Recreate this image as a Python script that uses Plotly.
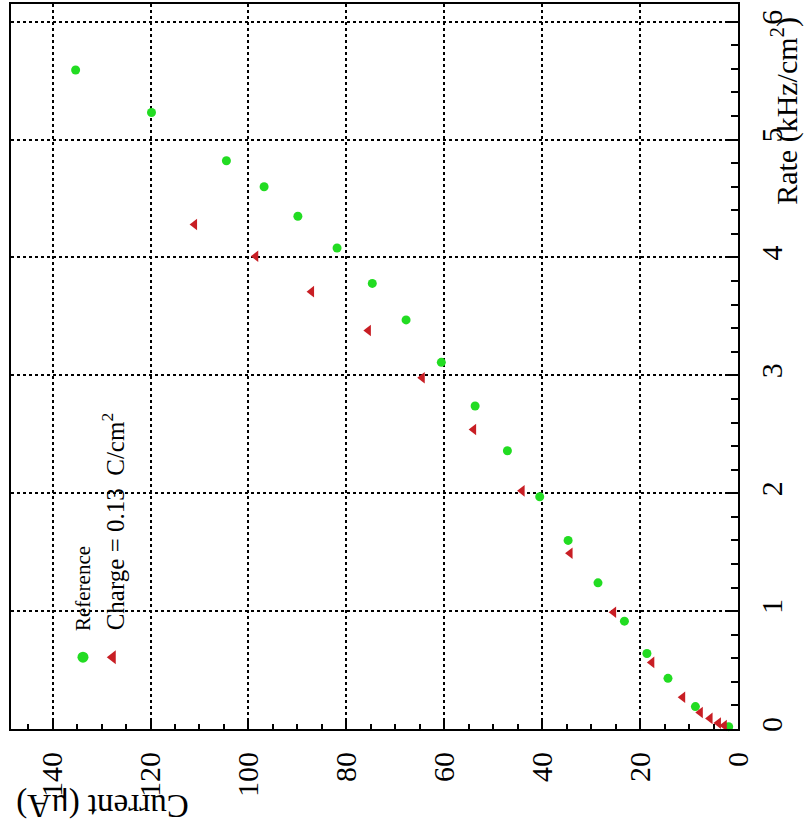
import plotly.graph_objects as go

# Data (Current in uA, Rate in kHz/cm^2)
ref_current = [1.9, 8.7, 14.3, 18.6, 23.2, 28.6, 34.7, 40.5, 47.1, 53.7, 60.6, 67.8, 74.7, 81.9, 89.9, 96.8, 104.5, 119.8, 135.3]
ref_rate = [0.02, 0.19, 0.43, 0.64, 0.915, 1.24, 1.60, 1.97, 2.36, 2.74, 3.11, 3.47, 3.78, 4.08, 4.35, 4.60, 4.82, 5.23, 5.59]

chg_current = [2.8, 4.0, 5.7, 7.7, 11.3, 17.6, 25.4, 34.3, 44.1, 54.0, 64.5, 75.5, 87.1, 98.5, 111.0]
chg_rate = [0.03, 0.05, 0.09, 0.14, 0.27, 0.565, 0.99, 1.49, 2.02, 2.54, 2.98, 3.38, 3.71, 4.01, 4.28]

legend_labels = ["Reference", "Charge\u00a0=\u00a00.13\u00a0\u00a0C/cm<sup>2</sup>"]

GREEN = "#22dc22"
RED = "#c81e24"
FONT = "Liberation Serif"

fig = go.Figure()
fig.add_trace(go.Scatter(x=ref_current, y=ref_rate, mode="markers", cliponaxis=False,
                         marker=dict(symbol="circle", size=9, color=GREEN), name=legend_labels[0]))
fig.add_trace(go.Scatter(x=chg_current, y=chg_rate, mode="markers", cliponaxis=False,
                         marker=dict(symbol="triangle-left", size=10, color=RED), name=legend_labels[1]))

# legend keys on an overlay paper-like axis
fig.add_trace(go.Scatter(x=[0.099], y=[0.099], mode="markers", xaxis="x2", yaxis="y2",
                         marker=dict(symbol="circle", size=11, color=GREEN), showlegend=False))
fig.add_trace(go.Scatter(x=[0.140], y=[0.099], mode="markers", xaxis="x2", yaxis="y2",
                         marker=dict(symbol="triangle-left", size=12, color=RED), showlegend=False))

axis_common = dict(
    showline=True, linecolor="black", linewidth=2, mirror=True,
    showgrid=True, gridcolor="black", griddash="dot", gridwidth=1.5,
    zeroline=False, ticks="inside", tickcolor="black", tickwidth=2,
    tickfont=dict(family=FONT, size=30, color="black"), tickangle=-90,
)

fig.update_layout(
    width=806, height=830,
    margin=dict(l=11, r=68, t=2, b=101),
    paper_bgcolor="white", plot_bgcolor="white",
    showlegend=False,
    xaxis=dict(range=[148.5, 0], dtick=20, tick0=0, ticklen=9,
               minor=dict(dtick=5, ticklen=5, ticks="inside", tickcolor="black", tickwidth=2, showgrid=False),
               ticklabelstandoff=9, **axis_common),
    yaxis=dict(range=[0, 6.15], dtick=1, tick0=0, side="right", ticklen=12,
               minor=dict(dtick=0.2, ticklen=7, ticks="inside", tickcolor="black", tickwidth=2, showgrid=False),
               ticklabelstandoff=6, **axis_common),
    xaxis2=dict(range=[0, 1], overlaying="x", visible=False, fixedrange=True),
    yaxis2=dict(range=[0, 1], overlaying="y", visible=False, fixedrange=True),
)

fig.add_annotation(text="Current (μA)", xref="paper", yref="paper", x=0.125, y=-0.1045,
                   xanchor="center", yanchor="middle",
                   showarrow=False, textangle=180, font=dict(family=FONT, size=33, color="black"))
fig.add_annotation(text="Rate (kHz/cm<sup>2</sup>)", xref="paper", yref="paper", x=1.064, y=0.852,
                   xanchor="center", yanchor="middle",
                   showarrow=False, textangle=-90, font=dict(family=FONT, size=30, color="black"))

fig.add_annotation(text=legend_labels[0], xref="paper", yref="paper", x=0.099, y=0.133,
                   xanchor="center", yanchor="bottom", showarrow=False, textangle=-90,
                   font=dict(family=FONT, size=21, color="black"))
fig.add_annotation(text=legend_labels[1], xref="paper", yref="paper", x=0.140, y=0.133,
                   xanchor="center", yanchor="bottom", showarrow=False, textangle=-90,
                   font=dict(family=FONT, size=25, color="black"))

fig.write_html("out.html")
